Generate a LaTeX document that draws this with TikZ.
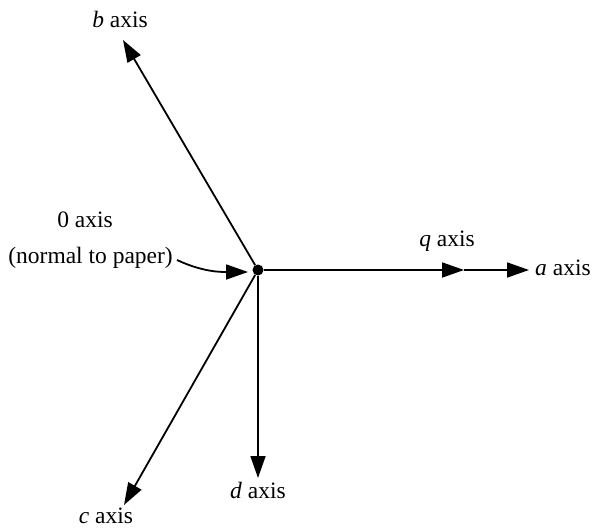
\documentclass[tikz,border=0pt]{standalone}
\usepackage{fontspec}
\setmainfont{Liberation Serif}
\usetikzlibrary{arrows.meta}
\begin{document}
\begin{tikzpicture}[x=1pt,y=-1pt,
  axisline/.style={line width=1.8pt,-{Triangle[length=22pt,width=15pt]}},
  lbl/.style={font=\fontsize{23.5}{28}\selectfont,inner sep=0pt}]
\useasboundingbox (0,0) rectangle (592,530);
% origin of the axes
\node[circle,fill,inner sep=0pt,minimum size=11pt] (o) at (258,270) {};
% arrow tips
\coordinate (btip) at (123,40);
\coordinate (qtip) at (464,270);
\coordinate (atip) at (529,270);
\coordinate (dtip) at (258,478);
\coordinate (ctip) at (124,505);
\coordinate (ztip) at (248,272);
% axes
\draw[axisline] (o) -- (btip);
\draw[axisline] (o) -- (qtip);
\draw[axisline] (qtip) -- (atip);
\draw[axisline] (o) -- (dtip);
\draw[axisline] (o) -- (ctip);
% labels
\node[lbl] (bl) at (120,19) {\textit{b} axis};
\node[lbl] (ql) at (447,241) {\textit{q} axis};
\node[lbl,anchor=west] (al) at (535,268) {\textit{a} axis};
\node[lbl] (dl) at (258,490) {\textit{d} axis};
\node[lbl] (cl) at (106,516) {\textit{c} axis};
\node[lbl] (zl) at (85,220) {0 axis};
\node[lbl,anchor=east] (nl) at (173,258) {(normal to paper)};
% pointer to the normal axis
\draw[line width=1.8pt,-{Triangle[length=22pt,width=15pt]}]
  ([xshift=4pt,yshift=-2pt]nl.east) to[out=-25,in=180] (ztip);
\end{tikzpicture}
\end{document}
